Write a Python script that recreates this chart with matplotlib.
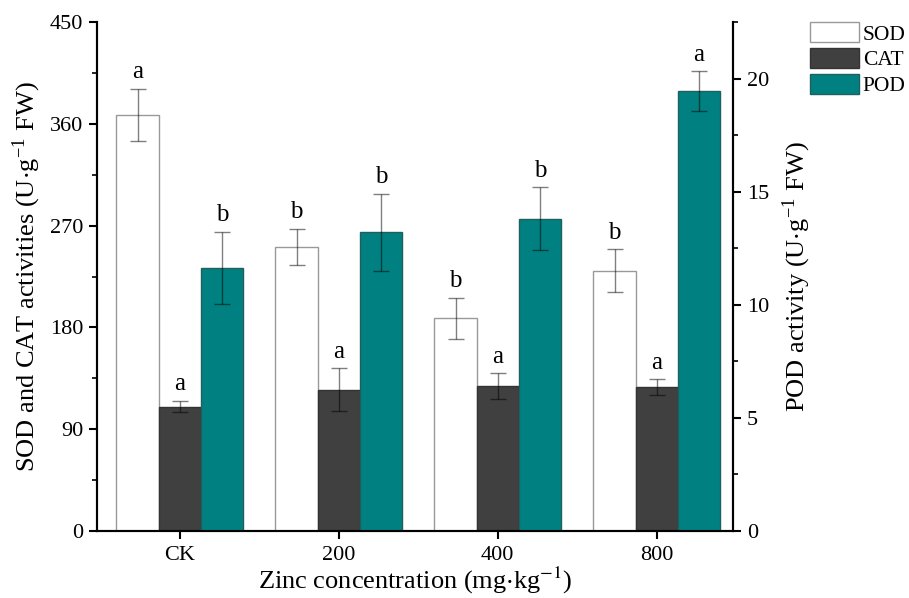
import numpy as np
import matplotlib
matplotlib.use("Agg")
from matplotlib import pyplot as plt
from matplotlib.ticker import MultipleLocator

plt.rcParams['font.family'] = ['Liberation Serif', 'DejaVu Serif']
plt.rcParams['mathtext.fontset'] = 'stix'

groups = ['CK', '200', '400', '800']
sod = [368, 251, 188, 230]
sod_err = [23, 16, 18, 19]
cat = [110, 125, 128, 127]
cat_err = [5, 19, 11.5, 7]
pod = [11.63, 13.2, 13.8, 19.45]
pod_err = [1.6, 1.7, 1.4, 0.88]
sod_sig = ['a', 'b', 'b', 'b']
cat_sig = ['a', 'a', 'a', 'a']
pod_sig = ['b', 'b', 'b', 'a']

fig = plt.figure(figsize=(9.09, 5.98), dpi=100)
ax = fig.add_axes([0.1067, 0.112, 0.6997, 0.8512])
ax2 = ax.twinx()

x = np.arange(len(groups))
w = 0.265
err_kw = dict(ecolor=(0, 0, 0, 0.5), elinewidth=1, capsize=5.5, capthick=1)

b1 = ax.bar(x - w, sod, w, yerr=sod_err, color='white', edgecolor='#999999',
            linewidth=1, error_kw=err_kw, label='SOD')
b2 = ax.bar(x, cat, w, yerr=cat_err, color='#404040', edgecolor='#333333',
            linewidth=1, error_kw=err_kw, label='CAT')
b3 = ax2.bar(x + w, pod, w, yerr=pod_err, color='#008080', edgecolor='#1f5f5f',
             linewidth=1, error_kw=err_kw, label='POD')

for i in range(len(groups)):
    ax.annotate(sod_sig[i], (x[i] - w, sod[i] + sod_err[i]), xytext=(0, 4),
                textcoords='offset points', ha='center', va='bottom', fontsize=18)
    ax.annotate(cat_sig[i], (x[i], cat[i] + cat_err[i]), xytext=(0, 4),
                textcoords='offset points', ha='center', va='bottom', fontsize=18)
    ax2.annotate(pod_sig[i], (x[i] + w, pod[i] + pod_err[i]), xytext=(0, 4),
                 textcoords='offset points', ha='center', va='bottom', fontsize=18)

ax.set_xlim(-0.52, 3.48)
ax.set_ylim(0, 450)
ax2.set_ylim(0, 22.5)
ax.yaxis.set_major_locator(MultipleLocator(90))
ax.yaxis.set_minor_locator(MultipleLocator(45))
ax2.yaxis.set_major_locator(MultipleLocator(5))
ax2.yaxis.set_minor_locator(MultipleLocator(2.5))
ax.set_xticks(x)
ax.set_xticklabels(groups)

for a in (ax, ax2):
    a.spines['top'].set_visible(False)
    for s in a.spines.values():
        s.set_linewidth(1.5)
    a.tick_params(which='major', direction='out', length=6, width=1.5, labelsize=16, pad=4)
    a.tick_params(which='minor', direction='out', length=3.5, width=1.2)
ax.tick_params(axis='x', pad=5)

ax.set_ylabel('SOD and CAT activities (U$\\cdot$g$^{\\mathregular{-1}}$ FW)', fontsize=19, labelpad=5)
ax2.set_ylabel('POD activity (U$\\cdot$g$^{\\mathregular{-1}}$ FW)', fontsize=19, labelpad=8)
ax.set_xlabel('Zinc concentration (mg$\\cdot$kg$^{-1}$)', fontsize=19, labelpad=0)

fig.legend(handles=[b1, b2, b3], labels=['SOD', 'CAT', 'POD'], loc='upper left',
           bbox_to_anchor=(0.891, 0.963), frameon=False, fontsize=15.5,
           handlelength=2.3, handleheight=1.07, labelspacing=0.15, handletextpad=0.15,
           borderaxespad=0, borderpad=0)

fig.savefig('out.png', dpi=100)
